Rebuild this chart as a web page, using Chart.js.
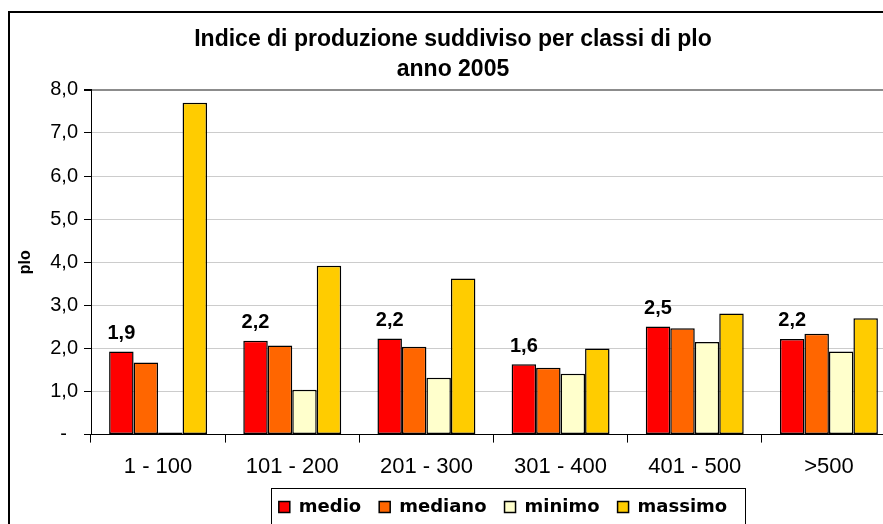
<!DOCTYPE html>
<html>
<head>
<meta charset="utf-8">
<script src="https://cdn.jsdelivr.net/npm/chart.js@4"></script>
<style>
  html, body { margin: 0; padding: 0; background: #fff; overflow: hidden; }
  #box { position: absolute; left: 8px; top: 11px; width: 904px; height: 513px; border: 2px solid #000; }
  canvas { display: block; }
</style>
</head>
<body>
<div id="box"><canvas id="myChart" width="904" height="513"></canvas></div>
<script>
const classi = ['1 - 100', '101 - 200', '201 - 300', '301 - 400', '401 - 500', '>500'];
const medio = [1.93, 2.18, 2.23, 1.63, 2.51, 2.22];
const mediano = [1.67, 2.07, 2.04, 1.55, 2.47, 2.34];
const minimo = [0.05, 1.04, 1.32, 1.41, 2.15, 1.93];
const massimo = [7.7, 3.92, 3.62, 2.0, 2.81, 2.7];
const yTicks = [0, 1, 2, 3, 4, 5, 6, 7, 8];

const fmt = v => v.toFixed(1).replace('.', ',');

// etichette sopra le barre "medio"
const etichette = {
  id: 'etichette',
  afterDatasetsDraw(chart) {
    const ctx = chart.ctx;
    const meta = chart.getDatasetMeta(0);
    ctx.save();
    ctx.font = 'bold 20px "Liberation Sans", Arial, sans-serif';
    ctx.fillStyle = '#000';
    ctx.textAlign = 'center';
    ctx.textBaseline = 'bottom';
    meta.data.forEach((bar, i) => {
      ctx.fillText(fmt(medio[i]), bar.x, bar.y - 8);
    });
    ctx.restore();
  }
};

// sposta la legenda e disegna la cornice
const cornice = {
  id: 'cornice',
  afterLayout(chart) {
    chart.legend.left += 50;
    chart.legend.right += 50;
  },
  afterDraw(chart) {
    const lg = chart.legend;
    const pad = lg.options.labels.padding;
    const lw = lg.lineWidths[0];
    const x0 = (lg.left + pad + lg.right - lw) / 2;
    const ctx = chart.ctx;
    ctx.save();
    ctx.strokeStyle = '#000';
    ctx.lineWidth = 1;
    ctx.strokeRect(Math.round(x0 - 8) + 0.5, lg.top + 8.5, Math.round(lw - pad + 26), 60);
    ctx.restore();
  }
};

const ctx = document.getElementById('myChart').getContext('2d');
const myChart = new Chart(ctx, {
  type: 'bar',
  data: {
    labels: classi,
    datasets: [
      { label: 'medio', data: medio, backgroundColor: '#FF0000' },
      { label: 'mediano', data: mediano, backgroundColor: '#FF6600' },
      { label: 'minimo', data: minimo, backgroundColor: '#FFFFCC' },
      { label: 'massimo', data: massimo, backgroundColor: '#FFCC00' }
    ].map(d => Object.assign(d, { borderColor: '#000', borderWidth: 1.5, borderSkipped: false }))
  },
  options: {
    responsive: false,
    animation: false,
    datasets: { bar: { categoryPercentage: 0.73, barPercentage: 1.0 } },
    layout: { padding: { left: 0, right: 18, top: 0, bottom: 0 } },
    plugins: {
      title: {
        display: true,
        text: ['Indice di produzione suddiviso per classi di plo', 'anno 2005'],
        color: '#000',
        font: { family: '"Liberation Sans", Arial, sans-serif', size: 23, weight: 'bold', lineHeight: 1.3 },
        padding: { top: 12, bottom: 5 }
      },
      legend: {
        position: 'bottom',
        labels: {
          color: '#000',
          boxWidth: 11,
          boxHeight: 11,
          padding: 18,
          font: { family: '"DejaVu Sans", sans-serif', size: 18, weight: 'bold' }
        }
      },
      tooltip: { enabled: false }
    },
    scales: {
      x: {
        border: { color: '#000', width: 1 },
        grid: { display: true, drawOnChartArea: false, drawTicks: true, tickLength: 8, color: '#000', offset: true },
        ticks: { color: '#000', padding: 11, font: { family: '"Liberation Sans", Arial, sans-serif', size: 22 } },
        afterFit(scale) { scale.height = 45.4; }
      },
      y: {
        min: 0,
        max: 8,
        border: { color: '#000', width: 1 },
        grid: {
          color: c => c.tick.value === 8 ? '#8c8c8c' : (c.tick.value === 0 ? 'rgba(0,0,0,0)' : '#cccccc'),
          lineWidth: c => c.tick.value === 8 ? 2 : 1,
          tickColor: '#000',
          tickLength: 7
        },
        afterBuildTicks(scale) { scale.ticks = yTicks.map(v => ({ value: v })); },
        ticks: {
          color: '#000',
          padding: 6,
          font: { family: '"Liberation Sans", Arial, sans-serif', size: 20 },
          callback: v => v === 0 ? '-  ' : fmt(v)
        },
        title: {
          display: true,
          text: 'plo',
          color: '#000',
          font: { family: '"Liberation Sans", Arial, sans-serif', size: 16, weight: 'bold' },
          padding: { top: 6, bottom: 0 }
        },
        afterFit(scale) { scale.width = 81; }
      }
    }
  },
  plugins: [etichette, cornice]
});
</script>
</body>
</html>
